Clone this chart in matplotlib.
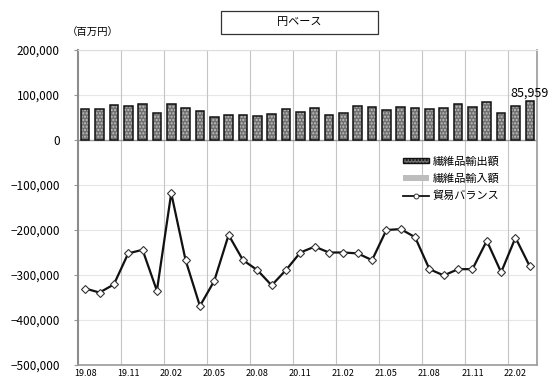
import matplotlib
matplotlib.use("Agg")
import matplotlib.pyplot as plt
from matplotlib.patches import Patch, Rectangle
from matplotlib.lines import Line2D
import numpy as np

plt.rcParams['font.family'] = ['Noto Sans CJK JP', 'DejaVu Sans']

months = ["19.08", "19.09", "19.10", "19.11", "19.12", "20.01", "20.02", "20.03",
          "20.04", "20.05", "20.06", "20.07", "20.08", "20.09", "20.10", "20.11",
          "20.12", "21.01", "21.02", "21.03", "21.04", "21.05", "21.06", "21.07",
          "21.08", "21.09", "21.10", "21.11", "21.12", "22.01", "22.02", "22.03"]
exports = [68000, 70000, 77000, 75000, 80000, 60000, 81000, 72000,
           64000, 52000, 55000, 55000, 53000, 58000, 68000, 62000,
           72000, 56000, 61000, 76000, 74000, 67000, 74000, 72000,
           69000, 71000, 79000, 74000, 84000, 60000, 75000, 85959]
balance = [-330000, -339000, -321000, -252000, -244000, -335000, -118000, -267000,
           -369000, -313000, -211000, -267000, -289000, -323000, -289000, -250000,
           -237000, -250000, -250000, -252000, -267000, -200000, -198000, -216000,
           -287000, -301000, -287000, -287000, -224000, -294000, -217000, -281000]
tick_labels = ["19.08", "19.11", "20.02", "20.05", "20.08", "20.11",
               "21.02", "21.05", "21.08", "21.11", "22.02"]
y_ticks = [200000, 100000, 0, -100000, -200000, -300000, -400000, -500000]

fig = plt.figure(figsize=(5.49, 3.79), dpi=100)
ax = fig.add_axes([78/549, 14/379, 459/549, 315/379])

x = np.arange(len(months))

# grid
for yv in y_ticks:
    ax.axhline(yv, color='#e6e6e6', lw=0.8, zorder=0)
ax.axhline(0, color='#9a9a9a', lw=1.0, zorder=1)
for xv in np.arange(2.5, len(months) - 1, 3):
    ax.axvline(xv, color='#c4c4c4', lw=0.8, zorder=0)

# bars
ax.bar(x, exports, width=0.6, color='#707070', edgecolor='#c0c0c0', hatch='.....',
       linewidth=0, zorder=2)
ax.bar(x, exports, width=0.6, facecolor='none', edgecolor='#111111', linewidth=1.1,
       zorder=3)

# balance line
ax.plot(x, balance, color='#111111', lw=1.6, marker='D', markersize=4.3,
        markerfacecolor='white', markeredgecolor='#333333', markeredgewidth=0.8,
        zorder=4)

ax.text(x[-1], exports[-1] + 3000, f"{exports[-1]:,}", ha='center', va='bottom',
        fontsize=9, clip_on=False, zorder=5)

ax.set_xlim(-0.5, len(months) - 0.5)
ax.set_ylim(-500000, 200000)
ax.set_yticks(y_ticks)
ax.set_yticklabels([f"{v:,}".replace('-', '−') for v in y_ticks], fontsize=8.5)
ax.set_xticks([months.index(t) for t in tick_labels])
ax.set_xticklabels(tick_labels, fontsize=6.5)
ax.tick_params(axis='x', length=0, pad=3)
ax.tick_params(axis='y', length=3, color='#999999', pad=10)

ax.spines['left'].set_color('#8c8c8c')
ax.spines['left'].set_linewidth(1.5)
for s in ['bottom', 'right']:
    ax.spines[s].set_color('#9a9a9a')
    ax.spines[s].set_linewidth(1.2)
ax.spines['top'].set_color('#dddddd')
ax.spines['top'].set_linewidth(0.8)

# legend
handles = [
    Patch(facecolor='#707070', edgecolor='#111111', hatch='.....', linewidth=1.0),
    Patch(facecolor='#bdbdbd', edgecolor='none'),
    Line2D([0], [0], color='#111111', lw=1.3, marker='o', markersize=3.5,
           markerfacecolor='white', markeredgecolor='#333333', markeredgewidth=0.7),
]
labels = ["繊維品輸出額", "繊維品輸入額", "貿易バランス"]
leg = ax.legend(handles, labels, loc='upper left', bbox_to_anchor=(0.695, 0.68),
                frameon=False, fontsize=8, handlelength=2.4, handleheight=0.35,
                handletextpad=0.3, labelspacing=0.6, borderpad=0)

# title box
fig.patches.append(Rectangle((221/549, 1 - 34/379), 157/549, 23/379,
                             transform=fig.transFigure, facecolor='white',
                             edgecolor='#333333', linewidth=0.9))
fig.text(299/549, 1 - 22.5/379, "円ベース", ha='center', va='center', fontsize=8)
fig.text(93/549, 1 - 33/379, "（百万円）", ha='center', va='center', fontsize=7.5)

fig.savefig("out.png", dpi=100)
